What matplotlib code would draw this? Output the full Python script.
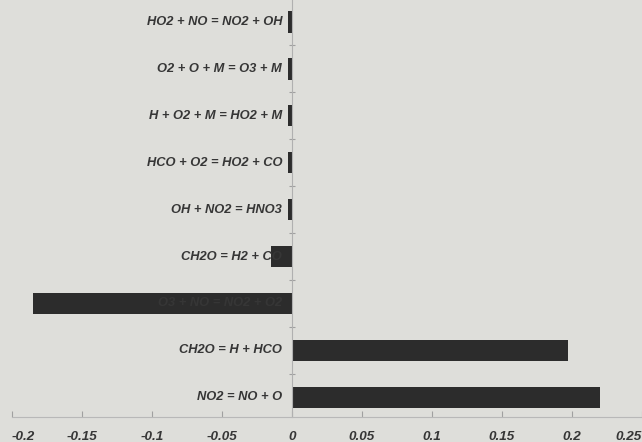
import matplotlib
matplotlib.use("Agg")
import matplotlib.pyplot as plt

# reactions, bottom to top as drawn
reactions = [
    "NO2 = NO + O",
    "CH2O = H + HCO",
    "O3 + NO = NO2 + O2",
    "CH2O = H2 + CO",
    "OH + NO2 = HNO3",
    "HCO + O2 = HO2 + CO",
    "H + O2 + M = HO2 + M",
    "O2 + O + M = O3 + M",
    "HO2 + NO = NO2 + OH",
]
sensitivity = [0.22, 0.197, -0.185, -0.015, -0.003, -0.003, -0.003, -0.003, -0.003]

xticks = [-0.2, -0.15, -0.1, -0.05, 0, 0.05, 0.1, 0.15, 0.2, 0.25]
xticklabels = ["-0.2", "-0.15", "-0.1", "-0.05", "0", "0.05", "0.1", "0.15", "0.2", "0.25"]

plt.rcParams["font.family"] = ["Liberation Sans", "DejaVu Sans"]

bg = "#dededa"
fig = plt.figure(figsize=(6.42, 4.42), dpi=100, facecolor=bg)
ax = fig.add_axes([12 / 642, 25 / 442, 630 / 642, 417 / 442], facecolor=bg)

ypos = list(range(len(reactions)))
ax.barh(ypos, sensitivity, height=0.45, color="#2c2c2c", zorder=2)

for y, name in zip(ypos, reactions):
    ax.text(-0.007, y, name, ha="right", va="center", fontsize=9.3,
            fontweight="bold", style="italic", color="#363636", zorder=3)

ax.set_xlim(-0.2, 0.25)
ax.set_ylim(-0.42, 8.47)

# category axis sits at x = 0, with ticks between categories
ax.spines["left"].set_position(("data", 0))
for s in ["top", "right"]:
    ax.spines[s].set_visible(False)
ax.spines["left"].set_color("#b0b0b0")
ax.spines["bottom"].set_color("#b8b8b8")
ax.set_yticks([y + 0.5 for y in ypos[:-1]])
ax.set_yticklabels([])
ax.tick_params(axis="y", length=4, direction="inout", color="#a0a0a0")

ax.set_xticks(xticks)
ax.set_xticklabels(xticklabels, fontsize=9.7, fontweight="bold", style="italic",
                   color="#363636")
ax.tick_params(axis="x", length=4, direction="in", color="#a0a0a0", pad=10)
labels = ax.get_xticklabels()
labels[0].set_horizontalalignment("left")
labels[-1].set_horizontalalignment("right")

fig.savefig("out.png", dpi=100, facecolor=bg)
